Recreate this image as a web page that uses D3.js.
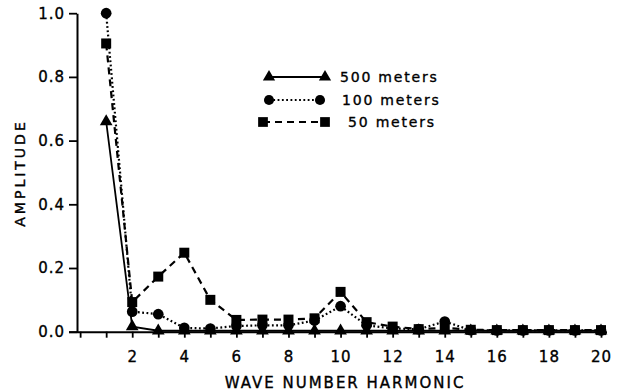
<!DOCTYPE html>
<html>
<head>
<meta charset="utf-8">
<script src="https://cdn.jsdelivr.net/npm/d3@7"></script>
<style>
  html, body { margin: 0; padding: 0; background: #fff; }
  svg { display: block; }
  text { font-family: "DejaVu Sans", sans-serif; fill: #000; stroke: #000; stroke-width: 0.35px; }
</style>
</head>
<body>
<svg id="chart" width="619" height="392"></svg>
<script>
const harmonics = d3.range(1, 21);
const amp500 = [0.66, 0.016, 0.003, 0.003, 0.003, 0.003, 0.003, 0.003, 0.003, 0.003, 0.003, 0.003, 0.003, 0.003, 0.003, 0.003, 0.003, 0.003, 0.003, 0.003];
const amp100 = [1.0, 0.063, 0.055, 0.012, 0.01, 0.018, 0.02, 0.02, 0.035, 0.08, 0.02, 0.01, 0.008, 0.032, 0.005, 0.004, 0.004, 0.004, 0.004, 0.004];
const amp50  = [0.905, 0.093, 0.173, 0.248, 0.10, 0.037, 0.038, 0.038, 0.042, 0.125, 0.03, 0.016, 0.008, 0.012, 0.006, 0.005, 0.005, 0.005, 0.005, 0.005];
const seriesNames = ["500 meters", "100 meters", "50 meters"];
const yTicks = [0, 0.2, 0.4, 0.6, 0.8, 1.0];
const xTicks = d3.range(0, 21);
const xLabelTicks = d3.range(2, 21, 2);
const xTitle = "WAVE NUMBER HARMONIC";
const yTitle = "AMPLITUDE";

const svg = d3.select("#chart");
const x = d3.scaleLinear().domain([-0.12, 20]).range([77, 601]);
const y = d3.scaleLinear().domain([0, 1]).range([331.7, 13.2]);

// Axes
const xAxis = d3.axisBottom(x).tickValues(xTicks).tickSize(6).tickSizeOuter(0)
  .tickFormat(d => xLabelTicks.includes(d) ? d : "").tickPadding(14);
const gx = svg.append("g").attr("transform", `translate(0,${y(0)})`).call(xAxis);
gx.select(".domain").attr("d", `M69,0.5H607`).attr("stroke", "#000").attr("stroke-width", 2);
gx.selectAll(".tick line").attr("stroke", "#000").attr("stroke-width", 1.8);
gx.selectAll(".tick text").attr("font-size", 15).attr("letter-spacing", "1px")
  .attr("font-family", "DejaVu Sans").attr("fill", "#000");

const yAxis = d3.axisLeft(y).tickValues(yTicks).tickSize(8).tickSizeOuter(0)
  .tickFormat(d3.format(".1f")).tickPadding(4);
const gy = svg.append("g").attr("transform", `translate(${x(-0.12)},0)`).call(yAxis);
gy.select(".domain").attr("stroke", "#000").attr("stroke-width", 2);
gy.selectAll(".tick line").attr("stroke", "#000").attr("stroke-width", 1.8);
gy.selectAll(".tick text").attr("font-size", 15).attr("letter-spacing", "1px")
  .attr("font-family", "DejaVu Sans").attr("fill", "#000");

// Titles
svg.append("text").attr("x", 345).attr("y", 388).attr("text-anchor", "middle")
  .attr("font-size", 15).attr("letter-spacing", "2px").text(xTitle);
svg.append("text").attr("transform", "translate(25,173) rotate(-90)").attr("text-anchor", "middle")
  .attr("font-size", 14).attr("letter-spacing", "3px").text(yTitle);

// Series
const series = [
  { name: seriesNames[2], values: amp50, dash: "7,5", width: 2.2, shape: d3.symbolSquare, size: 100 },
  { name: seriesNames[1], values: amp100, dash: "1.8,2.5", width: 2.2, shape: d3.symbolCircle, size: 90 },
  { name: seriesNames[0], values: amp500, dash: null, width: 1.8, shape: d3.symbolTriangle, size: 70 }
];
const line = d3.line().x((d, i) => x(harmonics[i])).y(d => y(d));

series.forEach(s => {
  svg.append("path").datum(s.values).attr("d", line)
    .attr("fill", "none").attr("stroke", "#000").attr("stroke-width", s.width)
    .attr("stroke-dasharray", s.dash);
  svg.append("g").selectAll("path").data(s.values).join("path")
    .attr("transform", (d, i) => `translate(${x(harmonics[i])},${y(d)})`)
    .attr("d", d3.symbol().type(s.shape).size(s.size)).attr("fill", "#000");
});

// Legend
const legend = [
  { name: seriesNames[0], x1: 269, x2: 325, y: 77, tx: 340, dash: null, width: 1.8, shape: d3.symbolTriangle, size: 65 },
  { name: seriesNames[1], x1: 269, x2: 320, y: 100, tx: 342, dash: "1.8,2.5", width: 2.2, shape: d3.symbolCircle, size: 80 },
  { name: seriesNames[2], x1: 263, x2: 325, y: 122, tx: 348, dash: "7,5", width: 2.2, shape: d3.symbolSquare, size: 95 }
];
legend.forEach(l => {
  svg.append("line").attr("x1", l.x1).attr("x2", l.x2).attr("y1", l.y).attr("y2", l.y)
    .attr("stroke", "#000").attr("stroke-width", l.width).attr("stroke-dasharray", l.dash);
  [l.x1, l.x2].forEach(px => {
    svg.append("path").attr("transform", `translate(${px},${l.y})`)
      .attr("d", d3.symbol().type(l.shape).size(l.size)).attr("fill", "#000");
  });
  svg.append("text").attr("x", l.tx).attr("y", l.y + 5).attr("font-size", 14)
    .attr("letter-spacing", "1.8px").text(l.name);
});
</script>
</body>
</html>
